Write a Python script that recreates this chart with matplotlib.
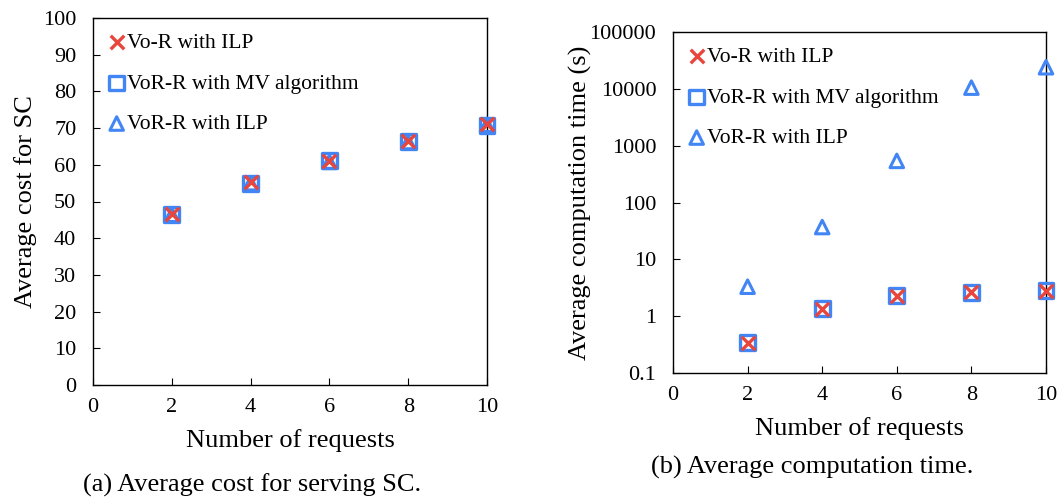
import matplotlib
matplotlib.use('Agg')
import matplotlib.pyplot as plt
from matplotlib.ticker import FixedLocator, FuncFormatter, NullLocator

plt.rcParams['font.family'] = ['Liberation Serif', 'DejaVu Serif']

requests = [2, 4, 6, 8, 10]

# (a) average cost for serving SC
cost_vor_ilp = [46.5, 55.2, 61.0, 66.5, 71.2]
cost_vorr_mv = [46.5, 55.0, 61.2, 66.4, 70.8]
cost_vorr_ilp = [46.4, 55.0, 60.8, 66.2, 70.9]

# (b) average computation time (s)
time_vor_ilp = [0.34, 1.35, 2.3, 2.65, 2.75]
time_vorr_mv = [0.34, 1.35, 2.3, 2.65, 2.8]
time_vorr_ilp = [3.3, 37, 540, 10500, 24000]

labels = ['Vo-R with ILP', 'VoR-R with MV algorithm', 'VoR-R with ILP']
red = '#e8453c'
blue = '#4285f4'

fig = plt.figure(figsize=(10.58, 5.0), dpi=100)
W, H = 1058, 500
ax1 = fig.add_axes([93 / W, 1 - 385 / H, (487 - 93) / W, (385 - 18) / H])
ax2 = fig.add_axes([673 / W, 1 - 373 / H, (1046 - 673) / W, (373 - 32) / H])


def draw(ax, ys):
    ax.scatter(requests, ys[1], marker='s', s=115, facecolors='none',
               edgecolors=blue, linewidths=2.4, label=labels[1], zorder=3, clip_on=False)
    ax.scatter(requests, ys[2], marker='^', s=95, facecolors='none',
               edgecolors=blue, linewidths=2.2, label=labels[2], zorder=3, clip_on=False)
    ax.scatter(requests, ys[0], marker='x', s=95, color=red,
               linewidths=2.4, label=labels[0], zorder=4, clip_on=False)
    for sp in ax.spines.values():
        sp.set_linewidth(1.0)
    ax.tick_params(direction='in', length=5, labelsize=16, top=False, right=False)
    ax.tick_params(axis='y', pad=12)
    ax.tick_params(axis='x', pad=9)
    ax.set_xlim(0, 10)
    ax.set_xticks([0, 2, 4, 6, 8, 10])
    ax.set_xlabel('Number of requests', fontsize=19, labelpad=9)
    handles, labs = ax.get_legend_handles_labels()
    order = [labs.index(l) for l in labels]
    ax.legend([handles[i] for i in order], [labs[i] for i in order],
              loc='upper left', frameon=False, fontsize=15.5, handletextpad=0.1,
              labelspacing=0.95, borderaxespad=0.3, handlelength=0.8)


draw(ax1, [cost_vor_ilp, cost_vorr_mv, cost_vorr_ilp])
ax1.set_ylim(0, 100)
ax1.set_yticks(range(0, 101, 10))
ax1.set_ylabel('Average cost for SC', fontsize=19, labelpad=4)

draw(ax2, [time_vor_ilp, time_vorr_mv, time_vorr_ilp])
ax2.set_yscale('log')
ax2.set_ylim(0.1, 100000)
ax2.yaxis.set_major_locator(FixedLocator([0.1, 1, 10, 100, 1000, 10000, 100000]))
ax2.yaxis.set_minor_locator(NullLocator())
ax2.yaxis.set_major_formatter(FuncFormatter(lambda v, p: '%g' % v if v < 1 else '%d' % round(v)))
ax2.set_ylabel('Average computation time (s)', fontsize=19, labelpad=-2)

fig.text(252 / W, 1 - 485 / H, '(a) Average cost for serving SC.', ha='center', va='center', fontsize=19)
fig.text(812 / W, 1 - 467 / H, '(b) Average computation time.', ha='center', va='center', fontsize=19)

fig.savefig('out.png', dpi=100)
